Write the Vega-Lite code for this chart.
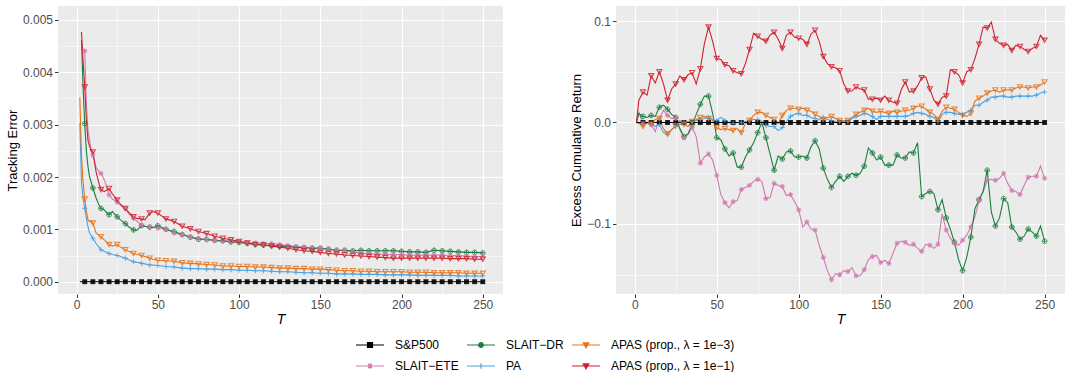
{
"$schema": "https://vega.github.io/schema/vega-lite/v6.json",
"background": "white",
"padding": {"left": 6, "top": 6, "right": 0, "bottom": 0},
"config": {
  "font": "Liberation Sans",
  "view": {"fill": "#EBEBEB", "stroke": null},
  "axis": {"labelFont": "Liberation Sans", "labelFontSize": 12, "labelColor": "#4D4D4D", "titleFont": "Liberation Sans", "titleFontSize": 13, "titleColor": "#000000", "titleFontWeight": "normal", "tickColor": "#333333", "tickSize": 3.5, "tickWidth": 1, "domain": false, "gridColor": "#FFFFFF", "labelPadding": 2, "titlePadding": 3}
},
"datasets": {
"left": [
{"T":2,"SP":0,"ETE":null,"DR":null,"PA":0.00303,"A3":0.00352,"A1":null},
{"T":3,"SP":0,"ETE":null,"DR":0.00462,"PA":0.0019,"A3":0.0024,"A1":0.00477},
{"T":4,"SP":0,"ETE":0.00443,"DR":0.0037,"PA":0.0016,"A3":0.0019,"A1":0.0042},
{"T":5,"SP":0,"ETE":0.00441,"DR":0.00302,"PA":0.0014,"A3":0.00158,"A1":0.00372},
{"T":6,"SP":0,"ETE":0.0034,"DR":0.0025,"PA":0.00122,"A3":0.00135,"A1":0.0031},
{"T":7,"SP":0,"ETE":0.0029,"DR":0.0022,"PA":0.00105,"A3":0.00118,"A1":0.0027},
{"T":8,"SP":0,"ETE":0.0027,"DR":0.002,"PA":0.00093,"A3":0.00115,"A1":0.00258},
{"T":9,"SP":0,"ETE":0.0025,"DR":0.0019,"PA":0.00088,"A3":0.00116,"A1":0.00252},
{"T":10,"SP":0,"ETE":0.00242,"DR":0.00179,"PA":0.00083,"A3":0.00112,"A1":0.00248},
{"T":12,"SP":0,"ETE":0.00218,"DR":0.0016,"PA":0.00073,"A3":0.00093,"A1":0.0021},
{"T":14,"SP":0,"ETE":0.0021,"DR":0.00145,"PA":0.00065,"A3":0.00088,"A1":0.00185},
{"T":15,"SP":0,"ETE":0.00207,"DR":0.0014,"PA":0.00061,"A3":0.00086,"A1":0.00176},
{"T":17,"SP":0,"ETE":0.00195,"DR":0.00137,"PA":0.00058,"A3":0.0008,"A1":0.00172},
{"T":20,"SP":0,"ETE":0.00166,"DR":0.00128,"PA":0.00054,"A3":0.00071,"A1":0.00178},
{"T":22,"SP":0,"ETE":0.00158,"DR":0.00134,"PA":0.00052,"A3":0.00068,"A1":0.00168},
{"T":25,"SP":0,"ETE":0.00152,"DR":0.00124,"PA":0.0005,"A3":0.00071,"A1":0.00156},
{"T":27,"SP":0,"ETE":0.00146,"DR":0.00118,"PA":0.00048,"A3":0.00066,"A1":0.00148},
{"T":30,"SP":0,"ETE":0.0014,"DR":0.00111,"PA":0.00045,"A3":0.00061,"A1":0.0014},
{"T":32,"SP":0,"ETE":0.0013,"DR":0.00105,"PA":0.00042,"A3":0.00058,"A1":0.00133},
{"T":35,"SP":0,"ETE":0.00121,"DR":0.00099,"PA":0.00038,"A3":0.00054,"A1":0.00124},
{"T":37,"SP":0,"ETE":0.00116,"DR":0.00098,"PA":0.00037,"A3":0.00052,"A1":0.00121},
{"T":40,"SP":0,"ETE":0.00108,"DR":0.00107,"PA":0.00035,"A3":0.0005,"A1":0.0012},
{"T":42,"SP":0,"ETE":0.00106,"DR":0.00106,"PA":0.00034,"A3":0.00048,"A1":0.00118},
{"T":45,"SP":0,"ETE":0.00105,"DR":0.00104,"PA":0.00032,"A3":0.00045,"A1":0.00131},
{"T":47,"SP":0,"ETE":0.00104,"DR":0.00103,"PA":0.00032,"A3":0.00043,"A1":0.00134},
{"T":50,"SP":0,"ETE":0.00102,"DR":0.00107,"PA":0.00031,"A3":0.00041,"A1":0.00131},
{"T":55,"SP":0,"ETE":0.001,"DR":0.001,"PA":0.00029,"A3":0.0004,"A1":0.0012},
{"T":60,"SP":0,"ETE":0.00093,"DR":0.00096,"PA":0.00028,"A3":0.00039,"A1":0.00115},
{"T":65,"SP":0,"ETE":0.0009,"DR":0.0009,"PA":0.00026,"A3":0.00036,"A1":0.00106},
{"T":70,"SP":0,"ETE":0.00086,"DR":0.00085,"PA":0.00025,"A3":0.00035,"A1":0.00101},
{"T":75,"SP":0,"ETE":0.00083,"DR":0.00081,"PA":0.00025,"A3":0.00034,"A1":0.00096},
{"T":80,"SP":0,"ETE":0.0008,"DR":0.00081,"PA":0.00024,"A3":0.00033,"A1":0.00092},
{"T":85,"SP":0,"ETE":0.00079,"DR":0.00079,"PA":0.00024,"A3":0.00032,"A1":0.00087},
{"T":90,"SP":0,"ETE":0.00078,"DR":0.00078,"PA":0.00023,"A3":0.0003,"A1":0.00083},
{"T":95,"SP":0,"ETE":0.00077,"DR":0.00076,"PA":0.00023,"A3":0.0003,"A1":0.0008},
{"T":100,"SP":0,"ETE":0.00076,"DR":0.00075,"PA":0.00022,"A3":0.00029,"A1":0.00077},
{"T":105,"SP":0,"ETE":0.00075,"DR":0.00073,"PA":0.00022,"A3":0.00029,"A1":0.00074},
{"T":110,"SP":0,"ETE":0.00074,"DR":0.00071,"PA":0.00021,"A3":0.00028,"A1":0.00071},
{"T":115,"SP":0,"ETE":0.00073,"DR":0.0007,"PA":0.00021,"A3":0.00028,"A1":0.0007},
{"T":120,"SP":0,"ETE":0.00073,"DR":0.00069,"PA":0.0002,"A3":0.00027,"A1":0.00068},
{"T":125,"SP":0,"ETE":0.00071,"DR":0.00068,"PA":0.00019,"A3":0.00026,"A1":0.00066},
{"T":130,"SP":0,"ETE":0.00069,"DR":0.00067,"PA":0.00019,"A3":0.00026,"A1":0.00064},
{"T":135,"SP":0,"ETE":0.00067,"DR":0.00066,"PA":0.00018,"A3":0.00025,"A1":0.00061},
{"T":140,"SP":0,"ETE":0.00066,"DR":0.00065,"PA":0.00017,"A3":0.00025,"A1":0.00059},
{"T":145,"SP":0,"ETE":0.00065,"DR":0.00064,"PA":0.00017,"A3":0.00024,"A1":0.00058},
{"T":150,"SP":0,"ETE":0.00064,"DR":0.00064,"PA":0.00016,"A3":0.00024,"A1":0.00056},
{"T":155,"SP":0,"ETE":0.00062,"DR":0.00062,"PA":0.00016,"A3":0.00023,"A1":0.00054},
{"T":160,"SP":0,"ETE":0.0006,"DR":0.0006,"PA":0.00015,"A3":0.00022,"A1":0.00053},
{"T":165,"SP":0,"ETE":0.00059,"DR":0.0006,"PA":0.00015,"A3":0.00021,"A1":0.00051},
{"T":170,"SP":0,"ETE":0.00057,"DR":0.00059,"PA":0.00015,"A3":0.00021,"A1":0.0005},
{"T":175,"SP":0,"ETE":0.00055,"DR":0.0006,"PA":0.00014,"A3":0.0002,"A1":0.00049},
{"T":180,"SP":0,"ETE":0.00054,"DR":0.00059,"PA":0.00014,"A3":0.0002,"A1":0.00048},
{"T":185,"SP":0,"ETE":0.00053,"DR":0.00059,"PA":0.00014,"A3":0.00019,"A1":0.00047},
{"T":190,"SP":0,"ETE":0.00053,"DR":0.00059,"PA":0.00013,"A3":0.00019,"A1":0.00046},
{"T":195,"SP":0,"ETE":0.00052,"DR":0.00059,"PA":0.00013,"A3":0.00019,"A1":0.00045},
{"T":200,"SP":0,"ETE":0.00052,"DR":0.00058,"PA":0.00013,"A3":0.00019,"A1":0.00045},
{"T":205,"SP":0,"ETE":0.00051,"DR":0.00057,"PA":0.00013,"A3":0.00018,"A1":0.00045},
{"T":210,"SP":0,"ETE":0.00051,"DR":0.00057,"PA":0.00012,"A3":0.00018,"A1":0.00045},
{"T":215,"SP":0,"ETE":0.00051,"DR":0.00056,"PA":0.00012,"A3":0.00018,"A1":0.00045},
{"T":220,"SP":0,"ETE":0.00051,"DR":0.0006,"PA":0.00012,"A3":0.00017,"A1":0.00045},
{"T":225,"SP":0,"ETE":0.00051,"DR":0.00059,"PA":0.00012,"A3":0.00017,"A1":0.00045},
{"T":230,"SP":0,"ETE":0.0005,"DR":0.00058,"PA":0.00012,"A3":0.00017,"A1":0.00044},
{"T":235,"SP":0,"ETE":0.0005,"DR":0.00057,"PA":0.00011,"A3":0.00017,"A1":0.00044},
{"T":240,"SP":0,"ETE":0.00049,"DR":0.00056,"PA":0.00011,"A3":0.00016,"A1":0.00044},
{"T":245,"SP":0,"ETE":0.00048,"DR":0.00056,"PA":0.00011,"A3":0.00016,"A1":0.00043},
{"T":250,"SP":0,"ETE":0.00048,"DR":0.00055,"PA":0.00011,"A3":0.00016,"A1":0.00043}
],
"right": [
{"T":1,"SP":0,"ETE":0,"DR":0,"PA":0,"A3":0,"A1":0},
{"T":2.5,"SP":0,"ETE":0.01,"DR":0.009,"PA":-0.001,"A3":0.0,"A1":0.022},
{"T":5,"SP":0,"ETE":-0.001,"DR":0.006,"PA":-0.002,"A3":-0.004,"A1":0.03},
{"T":7.5,"SP":0,"ETE":0.0,"DR":0.005,"PA":0.0,"A3":0.0,"A1":0.027},
{"T":10,"SP":0,"ETE":-0.002,"DR":0.007,"PA":-0.001,"A3":-0.002,"A1":0.046},
{"T":12.5,"SP":0,"ETE":-0.009,"DR":0.006,"PA":-0.004,"A3":0.003,"A1":0.039},
{"T":15,"SP":0,"ETE":0.004,"DR":0.015,"PA":-0.002,"A3":0.004,"A1":0.05},
{"T":17.5,"SP":0,"ETE":0.012,"DR":0.017,"PA":-0.01,"A3":-0.006,"A1":0.038},
{"T":20,"SP":0,"ETE":0.007,"DR":0.013,"PA":-0.012,"A3":-0.011,"A1":0.022},
{"T":22.5,"SP":0,"ETE":0.004,"DR":0.008,"PA":-0.007,"A3":-0.007,"A1":0.033},
{"T":25,"SP":0,"ETE":0.004,"DR":0.005,"PA":-0.004,"A3":-0.003,"A1":0.038},
{"T":27.5,"SP":0,"ETE":-0.007,"DR":-0.006,"PA":-0.002,"A3":0.002,"A1":0.046},
{"T":30,"SP":0,"ETE":-0.015,"DR":-0.014,"PA":0.0,"A3":-0.002,"A1":0.042},
{"T":32.5,"SP":0,"ETE":-0.012,"DR":-0.011,"PA":0.001,"A3":-0.004,"A1":0.047},
{"T":35,"SP":0,"ETE":-0.005,"DR":-0.002,"PA":0.001,"A3":0.001,"A1":0.049},
{"T":37.5,"SP":0,"ETE":-0.014,"DR":0.008,"PA":0.002,"A3":0.003,"A1":0.038},
{"T":40,"SP":0,"ETE":-0.04,"DR":0.018,"PA":0.003,"A3":0.005,"A1":0.053},
{"T":42.5,"SP":0,"ETE":-0.034,"DR":0.026,"PA":0.004,"A3":0.006,"A1":0.078},
{"T":45,"SP":0,"ETE":-0.031,"DR":0.026,"PA":0.005,"A3":0.004,"A1":0.094},
{"T":47.5,"SP":0,"ETE":-0.037,"DR":0.009,"PA":0.003,"A3":0.002,"A1":0.08},
{"T":50,"SP":0,"ETE":-0.052,"DR":-0.015,"PA":0.002,"A3":-0.005,"A1":0.063},
{"T":52.5,"SP":0,"ETE":-0.071,"DR":-0.017,"PA":0.005,"A3":-0.007,"A1":0.062},
{"T":55,"SP":0,"ETE":-0.079,"DR":-0.026,"PA":0.002,"A3":-0.006,"A1":0.057},
{"T":57.5,"SP":0,"ETE":-0.084,"DR":-0.033,"PA":0.0,"A3":-0.007,"A1":0.056},
{"T":60,"SP":0,"ETE":-0.078,"DR":-0.03,"PA":-0.001,"A3":-0.008,"A1":0.051},
{"T":62.5,"SP":0,"ETE":-0.077,"DR":-0.044,"PA":0.0,"A3":-0.006,"A1":0.049},
{"T":65,"SP":0,"ETE":-0.066,"DR":-0.044,"PA":0.0,"A3":-0.01,"A1":0.048},
{"T":67.5,"SP":0,"ETE":-0.064,"DR":-0.034,"PA":0.001,"A3":-0.001,"A1":0.058},
{"T":70,"SP":0,"ETE":-0.062,"DR":-0.027,"PA":0.002,"A3":0.002,"A1":0.072},
{"T":72.5,"SP":0,"ETE":-0.058,"DR":-0.02,"PA":0.003,"A3":0.007,"A1":0.088},
{"T":75,"SP":0,"ETE":-0.056,"DR":-0.01,"PA":0.003,"A3":0.01,"A1":0.085},
{"T":77.5,"SP":0,"ETE":-0.058,"DR":0.0,"PA":0.001,"A3":0.01,"A1":0.082},
{"T":80,"SP":0,"ETE":-0.075,"DR":-0.015,"PA":-0.003,"A3":0.007,"A1":0.08},
{"T":82.5,"SP":0,"ETE":-0.074,"DR":-0.031,"PA":-0.004,"A3":0.005,"A1":0.086},
{"T":85,"SP":0,"ETE":-0.06,"DR":-0.047,"PA":-0.004,"A3":0.003,"A1":0.089},
{"T":87.5,"SP":0,"ETE":-0.062,"DR":-0.033,"PA":-0.008,"A3":-0.001,"A1":0.082},
{"T":90,"SP":0,"ETE":-0.063,"DR":-0.036,"PA":-0.005,"A3":0.007,"A1":0.073},
{"T":92.5,"SP":0,"ETE":-0.072,"DR":-0.029,"PA":0.001,"A3":0.012,"A1":0.086},
{"T":95,"SP":0,"ETE":-0.071,"DR":-0.028,"PA":0.006,"A3":0.014,"A1":0.089},
{"T":97.5,"SP":0,"ETE":-0.078,"DR":-0.034,"PA":0.008,"A3":0.014,"A1":0.084},
{"T":100,"SP":0,"ETE":-0.086,"DR":-0.034,"PA":0.009,"A3":0.013,"A1":0.083},
{"T":102.5,"SP":0,"ETE":-0.103,"DR":-0.033,"PA":0.007,"A3":0.014,"A1":0.082},
{"T":105,"SP":0,"ETE":-0.098,"DR":-0.035,"PA":0.007,"A3":0.012,"A1":0.077},
{"T":107.5,"SP":0,"ETE":-0.105,"DR":-0.024,"PA":0.005,"A3":0.011,"A1":0.087},
{"T":110,"SP":0,"ETE":-0.106,"DR":-0.018,"PA":0.004,"A3":0.008,"A1":0.091},
{"T":112.5,"SP":0,"ETE":-0.121,"DR":-0.026,"PA":0.003,"A3":0.006,"A1":0.08},
{"T":115,"SP":0,"ETE":-0.133,"DR":-0.045,"PA":0.005,"A3":0.003,"A1":0.065},
{"T":117.5,"SP":0,"ETE":-0.146,"DR":-0.056,"PA":0.003,"A3":0.005,"A1":0.058},
{"T":120,"SP":0,"ETE":-0.155,"DR":-0.064,"PA":0.002,"A3":0.006,"A1":0.055},
{"T":122.5,"SP":0,"ETE":-0.149,"DR":-0.058,"PA":0.001,"A3":0.004,"A1":0.054},
{"T":125,"SP":0,"ETE":-0.15,"DR":-0.053,"PA":0.001,"A3":0.002,"A1":0.051},
{"T":127.5,"SP":0,"ETE":-0.146,"DR":-0.058,"PA":0.002,"A3":0.001,"A1":0.038},
{"T":130,"SP":0,"ETE":-0.147,"DR":-0.053,"PA":0.001,"A3":0.002,"A1":0.031},
{"T":132.5,"SP":0,"ETE":-0.143,"DR":-0.05,"PA":0.004,"A3":0.005,"A1":0.031},
{"T":135,"SP":0,"ETE":-0.151,"DR":-0.052,"PA":0.006,"A3":0.008,"A1":0.035},
{"T":137.5,"SP":0,"ETE":-0.151,"DR":-0.05,"PA":0.007,"A3":0.01,"A1":0.033},
{"T":140,"SP":0,"ETE":-0.145,"DR":-0.043,"PA":0.009,"A3":0.012,"A1":0.032},
{"T":142.5,"SP":0,"ETE":-0.135,"DR":-0.025,"PA":0.008,"A3":0.014,"A1":0.023},
{"T":145,"SP":0,"ETE":-0.132,"DR":-0.03,"PA":0.006,"A3":0.011,"A1":0.023},
{"T":147.5,"SP":0,"ETE":-0.131,"DR":-0.037,"PA":0.003,"A3":0.01,"A1":0.024},
{"T":150,"SP":0,"ETE":-0.138,"DR":-0.034,"PA":0.006,"A3":0.011,"A1":0.022},
{"T":152.5,"SP":0,"ETE":-0.136,"DR":-0.042,"PA":0.006,"A3":0.01,"A1":0.026},
{"T":155,"SP":0,"ETE":-0.139,"DR":-0.042,"PA":0.006,"A3":0.009,"A1":0.022},
{"T":157.5,"SP":0,"ETE":-0.129,"DR":-0.042,"PA":0.006,"A3":0.011,"A1":0.02},
{"T":160,"SP":0,"ETE":-0.119,"DR":-0.032,"PA":0.006,"A3":0.01,"A1":0.019},
{"T":162.5,"SP":0,"ETE":-0.117,"DR":-0.035,"PA":0.006,"A3":0.011,"A1":0.032},
{"T":165,"SP":0,"ETE":-0.118,"DR":-0.035,"PA":0.006,"A3":0.012,"A1":0.04},
{"T":167.5,"SP":0,"ETE":-0.121,"DR":-0.029,"PA":0.007,"A3":0.012,"A1":0.03},
{"T":170,"SP":0,"ETE":-0.12,"DR":-0.03,"PA":0.009,"A3":0.014,"A1":0.031},
{"T":172.5,"SP":0,"ETE":-0.124,"DR":-0.02,"PA":0.01,"A3":0.016,"A1":0.036},
{"T":175,"SP":0,"ETE":-0.127,"DR":-0.073,"PA":0.009,"A3":0.016,"A1":0.044},
{"T":177.5,"SP":0,"ETE":-0.12,"DR":-0.07,"PA":0.008,"A3":0.013,"A1":0.045},
{"T":180,"SP":0,"ETE":-0.121,"DR":-0.068,"PA":0.006,"A3":0.01,"A1":0.033},
{"T":182.5,"SP":0,"ETE":-0.124,"DR":-0.07,"PA":0.005,"A3":0.008,"A1":0.022},
{"T":185,"SP":0,"ETE":-0.12,"DR":-0.086,"PA":0.001,"A3":0.003,"A1":0.018},
{"T":187.5,"SP":0,"ETE":-0.09,"DR":-0.076,"PA":0.008,"A3":0.011,"A1":0.025},
{"T":190,"SP":0,"ETE":-0.106,"DR":-0.094,"PA":0.01,"A3":0.015,"A1":0.026},
{"T":192.5,"SP":0,"ETE":-0.114,"DR":-0.105,"PA":0.01,"A3":0.014,"A1":0.052},
{"T":195,"SP":0,"ETE":-0.119,"DR":-0.118,"PA":0.009,"A3":0.013,"A1":0.05},
{"T":197.5,"SP":0,"ETE":-0.121,"DR":-0.135,"PA":0.008,"A3":0.01,"A1":0.047},
{"T":200,"SP":0,"ETE":-0.116,"DR":-0.146,"PA":0.008,"A3":0.007,"A1":0.039},
{"T":202.5,"SP":0,"ETE":-0.111,"DR":-0.133,"PA":0.01,"A3":0.006,"A1":0.05},
{"T":205,"SP":0,"ETE":-0.103,"DR":-0.113,"PA":0.012,"A3":0.009,"A1":0.052},
{"T":207.5,"SP":0,"ETE":-0.093,"DR":-0.085,"PA":0.017,"A3":0.021,"A1":0.063},
{"T":210,"SP":0,"ETE":-0.077,"DR":-0.076,"PA":0.017,"A3":0.024,"A1":0.077},
{"T":212.5,"SP":0,"ETE":-0.068,"DR":-0.068,"PA":0.02,"A3":0.026,"A1":0.094},
{"T":215,"SP":0,"ETE":-0.057,"DR":-0.047,"PA":0.022,"A3":0.029,"A1":0.093},
{"T":217.5,"SP":0,"ETE":-0.056,"DR":-0.088,"PA":0.025,"A3":0.031,"A1":0.099},
{"T":220,"SP":0,"ETE":-0.057,"DR":-0.102,"PA":0.025,"A3":0.032,"A1":0.082},
{"T":222.5,"SP":0,"ETE":-0.055,"DR":-0.094,"PA":0.026,"A3":0.03,"A1":0.078},
{"T":225,"SP":0,"ETE":-0.05,"DR":-0.075,"PA":0.026,"A3":0.032,"A1":0.076},
{"T":227.5,"SP":0,"ETE":-0.06,"DR":-0.079,"PA":0.025,"A3":0.032,"A1":0.077},
{"T":230,"SP":0,"ETE":-0.067,"DR":-0.103,"PA":0.025,"A3":0.032,"A1":0.071},
{"T":232.5,"SP":0,"ETE":-0.068,"DR":-0.108,"PA":0.026,"A3":0.034,"A1":0.076},
{"T":235,"SP":0,"ETE":-0.071,"DR":-0.115,"PA":0.026,"A3":0.035,"A1":0.075},
{"T":237.5,"SP":0,"ETE":-0.062,"DR":-0.112,"PA":0.026,"A3":0.035,"A1":0.072},
{"T":240,"SP":0,"ETE":-0.054,"DR":-0.105,"PA":0.026,"A3":0.034,"A1":0.07},
{"T":242.5,"SP":0,"ETE":-0.053,"DR":-0.108,"PA":0.026,"A3":0.035,"A1":0.073},
{"T":245,"SP":0,"ETE":-0.053,"DR":-0.112,"PA":0.027,"A3":0.035,"A1":0.075},
{"T":247.5,"SP":0,"ETE":-0.043,"DR":-0.102,"PA":0.029,"A3":0.037,"A1":0.086},
{"T":250,"SP":0,"ETE":-0.055,"DR":-0.117,"PA":0.03,"A3":0.04,"A1":0.081}
]
},
"spacing": 67,
"resolve": {"scale": {"color": "shared"}, "legend": {"color": "shared"}},
"hconcat": [
{
  "width": 445, "height": 288,
  "data": {"name": "left"},
  "transform": [{"fold": ["ETE","DR","PA","A3","A1","SP"], "as": ["s","v"]}],
  "encoding": {
    "x": {"field": "T", "type": "quantitative", "title": "T",
      "scale": {"domain": [-11.45, 262.45], "nice": false, "zero": false},
      "axis": {"values": [0,25,50,75,100,125,150,175,200,225,250], "format": "d", "labelFontSize": 12, "labelExpr": "datum.value % 50 === 0 ? datum.label : ''", "gridWidth": {"condition": {"test": "datum.value % 50 !== 0", "value": 0.55}, "value": 1.1}, "tickOpacity": {"condition": {"test": "datum.value % 50 !== 0", "value": 0}, "value": 1}, "titleFontStyle": "italic", "titleFontSize": 14, "titlePadding": 2}},
    "y": {"field": "v", "type": "quantitative", "title": "Tracking Error",
      "scale": {"domain": [-0.000235, 0.005267], "nice": false, "zero": false},
      "axis": {"values": [0,0.0005,0.001,0.0015,0.002,0.0025,0.003,0.0035,0.004,0.0045,0.005], "format": ".3f", "labelFontSize": 12, "titleFontSize": 13, "labelExpr": "round(datum.value*10000) % 10 === 0 ? datum.label : ''", "gridWidth": {"condition": {"test": "round(datum.value*10000) % 10 !== 0", "value": 0.55}, "value": 1.1}, "tickOpacity": {"condition": {"test": "round(datum.value*10000) % 10 !== 0", "value": 0}, "value": 1}}},
    "color": {"field": "s", "type": "nominal",
      "scale": {"domain": ["SP","DR","A3","ETE","PA","A1"], "range": ["#000000","#1B7F3E","#E6731A","#D378B0","#4BA3E3","#D0202E"]},
      "legend": {"orient": "none", "legendX": 304, "legendY": 331, "direction": "horizontal", "columns": 3, "title": null, "labelFont": "Liberation Sans", "labelFontSize": 12, "labelColor": "#000000", "symbolSize": 196, "symbolStrokeWidth": 1.2, "columnPadding": 5, "rowPadding": 7, "labelOffset": 17,
        "labelExpr": "datum.value === 'SP' ? 'S&P500' : datum.value === 'ETE' ? 'SLAIT−ETE' : datum.value === 'DR' ? 'SLAIT−DR' : datum.value === 'PA' ? 'PA' : datum.value === 'A3' ? 'APAS (prop., λ = 1e−3)' : 'APAS (prop., λ = 1e−1)'",
        "encode": {"symbols": {"update": {
          "shape": {"signal": "datum.value === 'SP' ? 'M-2,0L2,0M-0.36,-0.36L0.36,-0.36L0.36,0.36L-0.36,0.36Z' : datum.value === 'ETE' ? 'M-2,0L2,0M0,-0.4L0,0.4M-0.28,-0.28L0.28,0.28M-0.28,0.28L0.28,-0.28' : datum.value === 'DR' ? 'M-2,0L-0.34,0A0.34,0.34,0,1,1,0.34,0A0.34,0.34,0,1,1,-0.34,0M0.34,0L2,0' : datum.value === 'PA' ? 'M-2,0L2,0M0,-0.4L0,0.4' : 'M-2,0L2,0M-0.4,-0.3L0.4,-0.3L0,0.4Z'"},
          "fill": {"signal": "datum.value === 'SP' ? '#000000' : 'transparent'"},
          "strokeWidth": {"value": 1.2},
          "opacity": {"value": 1}}}}}}
  },
  "layer": [
    {"mark": {"type": "line", "strokeWidth": 1.1, "clip": true}},
    {"transform": [{"filter": "datum.T % 5 === 0 && isValid(datum.v) && datum.s === 'SP'"}], "mark": {"type": "point", "shape": "square", "filled": true, "size": 24, "opacity": 0.9, "clip": true}},
    {"transform": [{"filter": "datum.T % 5 === 0 && isValid(datum.v) && datum.s === 'DR'"}], "mark": {"type": "point", "shape": "M-1,0A1,1,0,1,1,1,0A1,1,0,1,1,-1,0ZM-1,0L1,0M0,-1L0,1", "filled": false, "size": 22, "strokeWidth": 1, "opacity": 0.8, "clip": true}},
    {"transform": [{"filter": "datum.T % 5 === 0 && isValid(datum.v) && datum.s === 'ETE'"}], "mark": {"type": "point", "shape": "M-1,0L1,0M0,-1L0,1M-0.7,-0.7L0.7,0.7M-0.7,0.7L0.7,-0.7", "filled": false, "size": 26, "strokeWidth": 1.1, "opacity": 0.8, "clip": true}},
    {"transform": [{"filter": "datum.T % 5 === 0 && isValid(datum.v) && datum.s === 'PA'"}], "mark": {"type": "point", "shape": "M-1,0L1,0M0,-1L0,1", "filled": false, "size": 26, "strokeWidth": 1.1, "opacity": 0.8, "clip": true}},
    {"transform": [{"filter": "datum.T % 5 === 0 && isValid(datum.v) && (datum.s === 'A3' || datum.s === 'A1')"}], "mark": {"type": "point", "shape": "triangle-down", "filled": false, "size": 26, "strokeWidth": 1.1, "opacity": 0.8, "clip": true}}
  ]
},
{
  "width": 449, "height": 288,
  "data": {"name": "right"},
  "transform": [{"fold": ["ETE","DR","PA","A3","A1","SP"], "as": ["s","v"]}],
  "encoding": {
    "x": {"field": "T", "type": "quantitative", "title": "T",
      "scale": {"domain": [-11.45, 262.45], "nice": false, "zero": false},
      "axis": {"values": [0,25,50,75,100,125,150,175,200,225,250], "format": "d", "labelFontSize": 12, "labelExpr": "datum.value % 50 === 0 ? datum.label : ''", "gridWidth": {"condition": {"test": "datum.value % 50 !== 0", "value": 0.55}, "value": 1.1}, "tickOpacity": {"condition": {"test": "datum.value % 50 !== 0", "value": 0}, "value": 1}, "titleFontStyle": "italic", "titleFontSize": 14, "titlePadding": 2}},
    "y": {"field": "v", "type": "quantitative", "title": "Excess Cumulative Return",
      "scale": {"domain": [-0.169, 0.1148], "nice": false, "zero": false},
      "axis": {"values": [-0.15,-0.1,-0.05,0,0.05,0.1], "format": ".1f", "labelFontSize": 12, "titleFontSize": 13, "labelExpr": "round(datum.value*100) % 10 === 0 ? datum.label : ''", "gridWidth": {"condition": {"test": "round(datum.value*100) % 10 !== 0", "value": 0.55}, "value": 1.1}, "tickOpacity": {"condition": {"test": "round(datum.value*100) % 10 !== 0", "value": 0}, "value": 1}}},
    "color": {"field": "s", "type": "nominal", "scale": {"domain": ["SP","DR","A3","ETE","PA","A1"], "range": ["#000000","#1B7F3E","#E6731A","#D378B0","#4BA3E3","#D0202E"]}}
  },
  "layer": [
    {"mark": {"type": "line", "strokeWidth": 1.1, "clip": true}},
    {"transform": [{"filter": "datum.T % 5 === 0 && isValid(datum.v) && datum.s === 'SP'"}], "mark": {"type": "point", "shape": "square", "filled": true, "size": 24, "opacity": 0.9, "clip": true}},
    {"transform": [{"filter": "datum.T % 5 === 0 && isValid(datum.v) && datum.s === 'DR'"}], "mark": {"type": "point", "shape": "M-1,0A1,1,0,1,1,1,0A1,1,0,1,1,-1,0ZM-1,0L1,0M0,-1L0,1", "filled": false, "size": 22, "strokeWidth": 1, "opacity": 0.8, "clip": true}},
    {"transform": [{"filter": "datum.T % 5 === 0 && isValid(datum.v) && datum.s === 'ETE'"}], "mark": {"type": "point", "shape": "M-1,0L1,0M0,-1L0,1M-0.7,-0.7L0.7,0.7M-0.7,0.7L0.7,-0.7", "filled": false, "size": 26, "strokeWidth": 1.1, "opacity": 0.8, "clip": true}},
    {"transform": [{"filter": "datum.T % 5 === 0 && isValid(datum.v) && datum.s === 'PA'"}], "mark": {"type": "point", "shape": "M-1,0L1,0M0,-1L0,1", "filled": false, "size": 26, "strokeWidth": 1.1, "opacity": 0.8, "clip": true}},
    {"transform": [{"filter": "datum.T % 5 === 0 && isValid(datum.v) && (datum.s === 'A3' || datum.s === 'A1')"}], "mark": {"type": "point", "shape": "triangle-down", "filled": false, "size": 26, "strokeWidth": 1.1, "opacity": 0.8, "clip": true}}
  ]
}
]
}
